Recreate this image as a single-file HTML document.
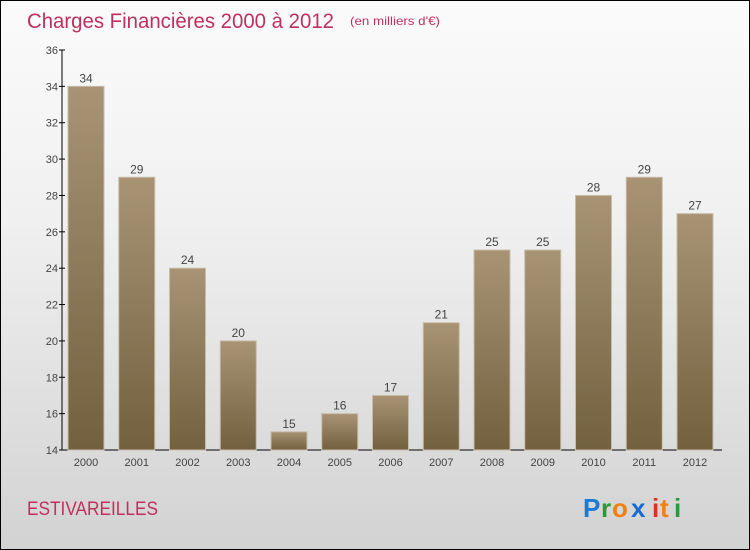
<!DOCTYPE html>
<html><head><meta charset="utf-8"><style>
body{margin:0;}
#c{width:748px;height:548px;border:1px solid #000;background:linear-gradient(#fbfbfb,#f0f0f0 40%,#d2d2d2);position:relative;overflow:hidden;font-family:"Liberation Sans",sans-serif;}
</style></head><body>
<div id="c">
<svg width="748" height="548" id="svg">
<defs><linearGradient id="bg" x1="0" y1="0" x2="0" y2="1"><stop offset="0" stop-color="#a89474"/><stop offset="1" stop-color="#72603f"/></linearGradient></defs>
<text x="26" y="27" font-size="21" fill="#c0305e" textLength="307" lengthAdjust="spacingAndGlyphs">Charges Financières 2000 à 2012</text>
<text x="349" y="24" font-size="12" fill="#c0305e" textLength="90" lengthAdjust="spacingAndGlyphs">(en milliers d'€)</text>
<text x="26" y="514" font-size="19" fill="#c0305e" textLength="131" lengthAdjust="spacingAndGlyphs">ESTIVAREILLES</text>
<g font-size="26" font-weight="bold" font-family="Liberation Sans,sans-serif">
<text x="582" y="516" fill="#1a7ad4">P</text><text x="600" y="516" fill="#2a9a3a">r</text><text x="611" y="516" fill="#f08010">o</text><text x="630" y="516" fill="#1a6ad0">x</text><text x="651" y="516" fill="#e03020">i</text><text x="659" y="516" fill="#f08010">t</text><text x="673" y="516" fill="#2a9a3a">i</text>
</g>
<g id="plot"></g>
</svg>
</div>
<script>
const categories=["2000","2001","2002","2003","2004","2005","2006","2007","2008","2009","2010","2011","2012"];
const values=[34,29,24,20,15,16,17,21,25,25,28,29,27];
const yTicks=[14,16,18,20,22,24,26,28,30,32,34,36];
const NS="http://www.w3.org/2000/svg";
const g=document.getElementById('plot');
const y0=449,yMin=14,yMax=36,yTop=49;
const y=v=>y0-(v-yMin)/(yMax-yMin)*(y0-yTop);
const x=i=>67+i*50.75;
function mk(t,a){const e=document.createElementNS(NS,t);for(const k in a)e.setAttribute(k,a[k]);g.appendChild(e);return e;}
let ax=mk('line',{x1:61,y1:y0,x2:61,y2:yTop,stroke:'#000'});


let bx=mk('line',{x1:61,y1:y0,x2:721,y2:y0,stroke:'#000'});


yTicks.forEach(v=>{
 let l=mk('line',{x1:58,x2:64,y1:y(v),y2:y(v),stroke:'#000'});
 
 
 let t=mk('text',{x:57,y:y(v)+4,'text-anchor':'end','font-size':11,fill:'#444'});
 t.textContent=v;
 
 
});
categories.forEach((c,i)=>{
 let r=mk('rect',{x:x(i),y:y(values[i]),width:36,height:y0-y(values[i]),fill:'url(#bg)',stroke:'#c8bca8','stroke-width':1});
 
 
 let t=mk('text',{x:x(i)+18,y:y(values[i])-4,'text-anchor':'middle','font-size':12,fill:'#444'});
 t.textContent=values[i];
 
 
 let l=mk('text',{x:x(i)+18,y:465,'text-anchor':'middle','font-size':11,fill:'#444'});
 l.textContent=c;
 
 
});
</script>
</body></html>
